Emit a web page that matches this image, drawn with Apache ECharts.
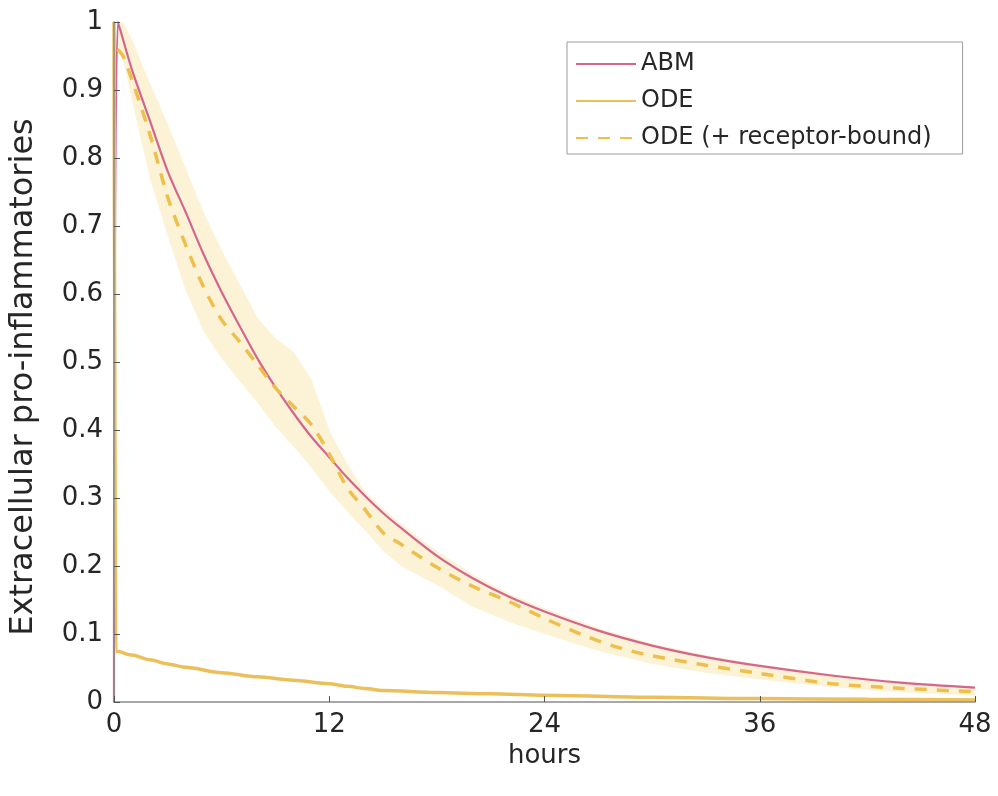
<!DOCTYPE html>
<html lang="en">
<head>
    <meta charset="UTF-8">
    <title>Extracellular pro-inflammatories</title>
    <script src="https://cdn.jsdelivr.net/npm/echarts@6/dist/echarts.min.js"></script>
    <style>
        html, body { margin: 0; padding: 0; background: #fff; }
        #main { width: 998px; height: 796px; }
    </style>
</head>
<body>
<div id="main"></div>
<script type="text/javascript">
    // values (hours, fraction)
    var abmHours = [0, 0.22, 1, 2, 3, 4, 5, 6, 7, 8, 9, 10, 11, 12, 13, 14, 15, 16, 18, 20, 22, 24, 27, 30, 33, 36, 40, 44, 48];
    var abmValues = [0, 1.0, 0.93, 0.855, 0.78, 0.72, 0.658, 0.603, 0.553, 0.505, 0.463, 0.425, 0.39, 0.36, 0.33, 0.303, 0.278, 0.256, 0.215, 0.182, 0.155, 0.133, 0.105, 0.083, 0.066, 0.053, 0.039, 0.028, 0.021];

    var odeHours = [0, 0.1, 1, 2, 3, 4, 6, 8, 10, 12, 13, 14, 15, 18, 21, 24, 30, 36, 42, 48];
    var odeValues = [1.0, 0.075, 0.069, 0.062, 0.056, 0.051, 0.043, 0.037, 0.032, 0.027, 0.023, 0.02, 0.017, 0.014, 0.012, 0.01, 0.007, 0.005, 0.004, 0.003];

    var odeRbHours = [0.2, 0.5, 1, 2, 3, 4, 5, 6, 7, 8, 9, 10, 11, 12, 13, 14, 15, 16, 18, 20, 22, 24, 26, 28, 30, 33, 36, 40, 44, 48];
    var odeRbValues = [0.96, 0.95, 0.915, 0.835, 0.742, 0.672, 0.61, 0.562, 0.53, 0.496, 0.462, 0.435, 0.408, 0.365, 0.315, 0.283, 0.249, 0.232, 0.198, 0.17, 0.148, 0.123, 0.1, 0.081, 0.068, 0.054, 0.042, 0.027, 0.02, 0.015];

    var bandHours = [0.2, 0.5, 1, 2, 3, 4, 5, 6, 7, 8, 9, 10, 11, 12, 13, 14, 15, 16, 18, 20, 22, 24, 27, 30, 33, 36, 40, 44, 48];
    var bandUpper = [1.0, 1.0, 0.975, 0.91, 0.85, 0.785, 0.72, 0.665, 0.615, 0.565, 0.535, 0.515, 0.475, 0.40, 0.35, 0.31, 0.285, 0.262, 0.222, 0.188, 0.16, 0.138, 0.109, 0.086, 0.069, 0.055, 0.041, 0.03, 0.022];
    var bandLower = [0.97, 0.945, 0.885, 0.77, 0.685, 0.605, 0.545, 0.505, 0.472, 0.44, 0.405, 0.376, 0.345, 0.31, 0.28, 0.252, 0.222, 0.2, 0.172, 0.14, 0.118, 0.1, 0.075, 0.056, 0.043, 0.033, 0.022, 0.014, 0.01];

    var xTicks = [0, 12, 24, 36, 48];

    function pairs(xs, ys) {
        var out = [];
        for (var i = 0; i < xs.length; i++) {
            out.push([xs[i], ys[i]]);
        }
        return out;
    }

    var bandData = [];
    for (var i = 0; i < bandHours.length; i++) {
        bandData.push([bandHours[i], bandLower[i], bandUpper[i]]);
    }

    // shaded spread drawn as one polygon: upper edge, then lower edge backwards
    function renderBand(params, api) {
        if (params.dataIndex !== 0) {
            return null;
        }
        var pts = [];
        for (var i = 0; i < bandHours.length; i++) {
            pts.push(api.coord([bandHours[i], bandUpper[i]]));
        }
        for (var j = bandHours.length - 1; j >= 0; j--) {
            pts.push(api.coord([bandHours[j], bandLower[j]]));
        }
        return {
            type: 'polygon',
            shape: { points: pts },
            style: { fill: 'rgba(242, 204, 96, 0.26)' }
        };
    }

    var font = 'DejaVu Sans';
    var textColor = '#262626';

    var myChart = echarts.init(document.getElementById('main'));
    var option = {
        backgroundColor: '#fff',
        animation: false,
        grid: { left: 111, right: 23, top: 22, bottom: 94 },
        legend: {
            left: 567,
            top: 42,
            orient: 'vertical',
            itemWidth: 60,
            itemHeight: 14,
            itemGap: 13,
            padding: [10, 31, 4, 8],
            borderColor: '#9a9a9a',
            borderWidth: 1,
            backgroundColor: '#fff',
            itemStyle: { opacity: 0 },
            textStyle: { fontFamily: font, fontSize: 24, color: textColor },
            data: ['ABM', 'ODE', 'ODE (+ receptor-bound)']
        },
        xAxis: {
            type: 'value',
            min: 0,
            max: 48,
            interval: 12,
            z: 10,
            name: 'hours',
            nameLocation: 'middle',
            nameGap: 22,
            nameTextStyle: { fontFamily: font, fontSize: 26, color: textColor },
            axisLine: { lineStyle: { color: '#8c8c8c', width: 1.5 } },
            axisTick: { inside: true, length: 6, lineStyle: { color: '#555' } },
            axisLabel: {
                margin: 10,
                fontFamily: font,
                fontSize: 26,
                color: textColor,
                customValues: xTicks
            },
            splitLine: { show: false }
        },
        yAxis: {
            type: 'value',
            min: 0,
            max: 1,
            interval: 0.1,
            z: 10,
            name: 'Extracellular pro-inflammatories',
            nameLocation: 'middle',
            nameGap: 74,
            nameTextStyle: { fontFamily: font, fontSize: 32, color: textColor, padding: [0, 30, 0, 0] },
            axisLine: { show: true, lineStyle: { color: '#8c8c8c', width: 1.5 } },
            axisTick: { show: true, inside: true, length: 6, lineStyle: { color: '#555' } },
            axisLabel: { margin: 11, fontFamily: font, fontSize: 26, color: textColor },
            splitLine: { show: false }
        },
        series: [
            {
                name: 'band',
                type: 'custom',
                renderItem: renderBand,
                data: bandData,
                encode: { x: 0, y: [1, 2] },
                clip: true,
                silent: true
            },
            {
                name: 'ABM',
                type: 'line',
                data: pairs(abmHours, abmValues),
                showSymbol: false,
                symbol: 'none',
                smooth: 0.3,
                color: '#d4668e',
                lineStyle: { color: '#d4668e', width: 2.2 }
            },
            {
                name: 'ODE',
                type: 'line',
                data: pairs(odeHours, odeValues),
                showSymbol: false,
                symbol: 'none',
                smooth: 0.3,
                smoothMonotone: 'x',
                color: '#ebc05a',
                lineStyle: { color: '#ebc05a', width: 3.5 }
            },
            {
                name: 'ODE (+ receptor-bound)',
                type: 'line',
                data: pairs(odeRbHours, odeRbValues),
                showSymbol: false,
                symbol: 'none',
                smooth: 0.3,
                color: '#eebf4c',
                lineStyle: { color: '#eebf4c', width: 3.5, type: [12, 10] }
            }
        ]
    };

    if (option && typeof option === 'object') {
        myChart.setOption(option, true);
    }
</script>
</body>
</html>
